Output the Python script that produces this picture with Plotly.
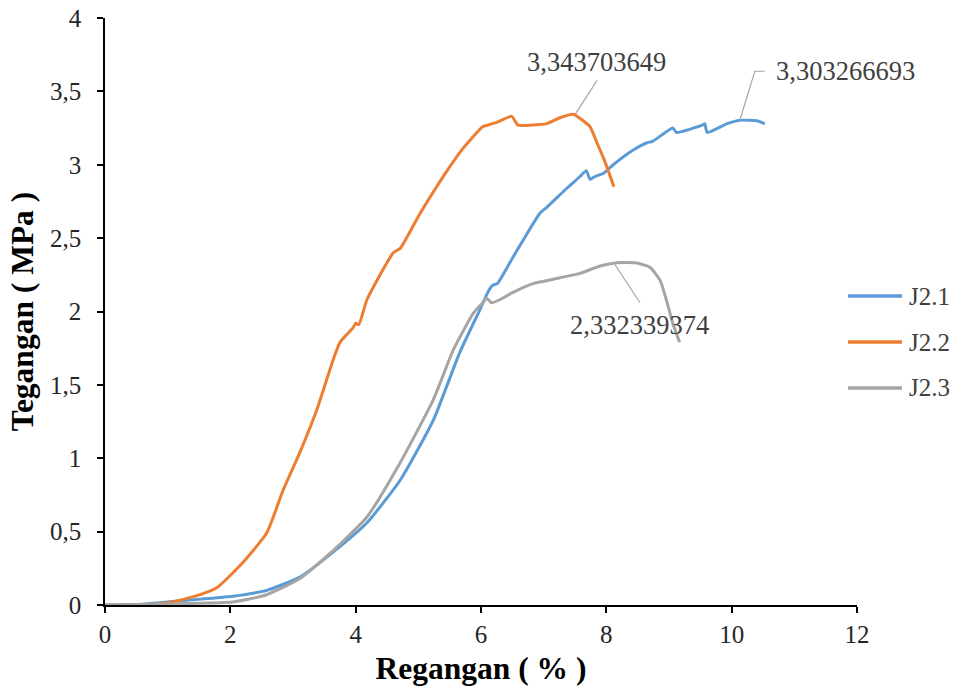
import plotly.graph_objects as go

# J2.1 (blue)
j21_x = [0, 0.5, 0.99, 1.52, 2.04, 2.58, 3.11, 3.64, 4.18, 4.71, 5.24, 5.66, 5.98, 6.12, 6.19, 6.26,
         6.51, 6.94, 7.05, 7.37, 7.58, 7.68, 7.74, 7.82, 7.95, 8.11, 8.43, 8.65, 8.74, 9.06, 9.12,
         9.53, 9.57, 9.61, 9.93, 10.13, 10.40, 10.53]
j21_y = [0, 0.003, 0.02, 0.04, 0.06, 0.10, 0.19, 0.36, 0.56, 0.85, 1.26, 1.72, 2.01, 2.14, 2.18, 2.19,
         2.37, 2.67, 2.71, 2.84, 2.92, 2.96, 2.90, 2.92, 2.94, 3.00, 3.10, 3.15, 3.16, 3.25, 3.22,
         3.27, 3.28, 3.22, 3.28, 3.303266693, 3.30, 3.28]

# J2.2 (orange)
j22_x = [0, 0.45, 0.99, 1.40, 1.79, 2.20, 2.58, 2.84, 3.11, 3.38, 3.64, 3.75, 3.85, 3.96, 4.00, 4.05,
         4.18, 4.60, 4.71, 5.03, 5.46, 5.71, 6.03, 6.11, 6.26, 6.49, 6.59, 6.78, 7.05, 7.26, 7.47,
         7.63, 7.74, 7.85, 7.95, 8.03, 8.12]
j22_y = [0, 0, 0.014, 0.055, 0.12, 0.29, 0.49, 0.78, 1.04, 1.33, 1.67, 1.79, 1.84, 1.89, 1.92, 1.91,
         2.08, 2.40, 2.43, 2.67, 2.96, 3.11, 3.26, 3.27, 3.29, 3.33, 3.27, 3.27, 3.28, 3.32, 3.343703649,
         3.30, 3.26, 3.15, 3.05, 2.96, 2.85]

# J2.3 (grey)
j23_x = [0, 0.99, 2.04, 2.58, 3.11, 3.64, 4.18, 4.71, 5.24, 5.56, 5.88, 6.03, 6.09, 6.17, 6.30, 6.51,
         6.83, 7.26, 7.58, 7.90, 8.17, 8.49, 8.70, 8.86, 8.97, 9.06, 9.17]
j23_y = [0, 0.007, 0.02, 0.07, 0.18, 0.37, 0.60, 0.97, 1.40, 1.74, 1.99, 2.06, 2.09, 2.06, 2.08, 2.13,
         2.19, 2.23, 2.26, 2.31, 2.332339374, 2.33, 2.30, 2.21, 2.06, 1.92, 1.79]

series_names = ["J2.1", "J2.2", "J2.3"]
colors = ["#5B9BD5", "#ED7D31", "#A5A5A5"]
peak_labels = ["3,303266693", "3,343703649", "2,332339374"]

FONT = "Liberation Serif, Times New Roman, serif"

fig = go.Figure()
for i, (xs, ys) in enumerate([(j21_x, j21_y), (j22_x, j22_y), (j23_x, j23_y)]):
    fig.add_trace(go.Scatter(x=xs, y=ys, mode="lines", name=series_names[i],
                             line=dict(color=colors[i], width=3, shape="spline", smoothing=0.5),
                             showlegend=False))

def peak(xs, ys):
    k = max(range(len(ys)), key=lambda j: ys[j])
    return xs[k], ys[k]

p1 = peak(j21_x, j21_y)
p2 = peak(j22_x, j22_y)
p3 = peak(j23_x, j23_y)

lead = dict(color="#A6A6A6", width=1.2)
shapes = [
    dict(type="path", xref="x", yref="y", xsizemode="pixel", ysizemode="pixel",
         xanchor=p1[0], yanchor=p1[1], path="M0,0 L15,49 L25,49", line=lead),
    dict(type="path", xref="x", yref="y", xsizemode="pixel", ysizemode="pixel",
         xanchor=p2[0], yanchor=p2[1], path="M2,0 L24,34", line=lead),
    dict(type="path", xref="x", yref="y", xsizemode="pixel", ysizemode="pixel",
         xanchor=p3[0], yanchor=p3[1], path="M-2,-2 L23,-40", line=lead),
]
afont = dict(family=FONT, size=26.5, color="#404040")
annotations = [
    dict(x=p1[0], y=p1[1], xref="x", yref="y", text=peak_labels[0], showarrow=False,
         xanchor="left", yanchor="middle", xshift=34, yshift=49, font=afont),
    dict(x=p2[0], y=p2[1], xref="x", yref="y", text=peak_labels[1], showarrow=False,
         xanchor="center", yanchor="middle", xshift=23, yshift=52, font=afont),
    dict(x=p3[0], y=p3[1], xref="x", yref="y", text=peak_labels[2], showarrow=False,
         xanchor="center", yanchor="middle", xshift=23, yshift=-62, font=afont),
]

# legend (line samples + labels to the right of the plot area)
leg_y = [0.5264, 0.4480, 0.3697]
lfont = dict(family=FONT, size=25, color="#404040")
for i in range(3):
    shapes.append(dict(type="line", xref="paper", yref="paper", x0=0.9880, x1=1.0598,
                       y0=leg_y[i], y1=leg_y[i], line=dict(color=colors[i], width=3.5)))
    annotations.append(dict(x=1.0665, y=leg_y[i], xref="paper", yref="paper", text=series_names[i],
                            showarrow=False, xanchor="left", yanchor="middle", font=lfont))

axis_common = dict(showline=True, linecolor="black", linewidth=1.5, ticks="outside",
                   ticklen=6, tickcolor="black", tickwidth=1.5, showgrid=False, zeroline=False,
                   automargin=False,
                   tickfont=dict(family=FONT, size=25, color="#262626"))

fig.update_layout(
    width=954, height=693,
    margin=dict(l=105, r=97, t=18, b=88),
    paper_bgcolor="white", plot_bgcolor="white",
    separators=", ",
    showlegend=False,
    xaxis=dict(range=[0, 12], dtick=2, tick0=0,
               title=dict(text="<b>Regangan ( % )</b>", font=dict(family=FONT, size=31.5, color="black"),
                          standoff=10),
               **axis_common),
    yaxis=dict(range=[0, 4], dtick=0.5, tick0=0, ticklabelstandoff=11,
               title=dict(text="<b>Tegangan ( MPa )</b>", font=dict(family=FONT, size=31.5, color="black"),
                          standoff=7),
               **axis_common),
    shapes=shapes,
    annotations=annotations,
)

fig.write_html("out.html", config={"displayModeBar": False},
               post_script="document.body.style.margin='0';")
